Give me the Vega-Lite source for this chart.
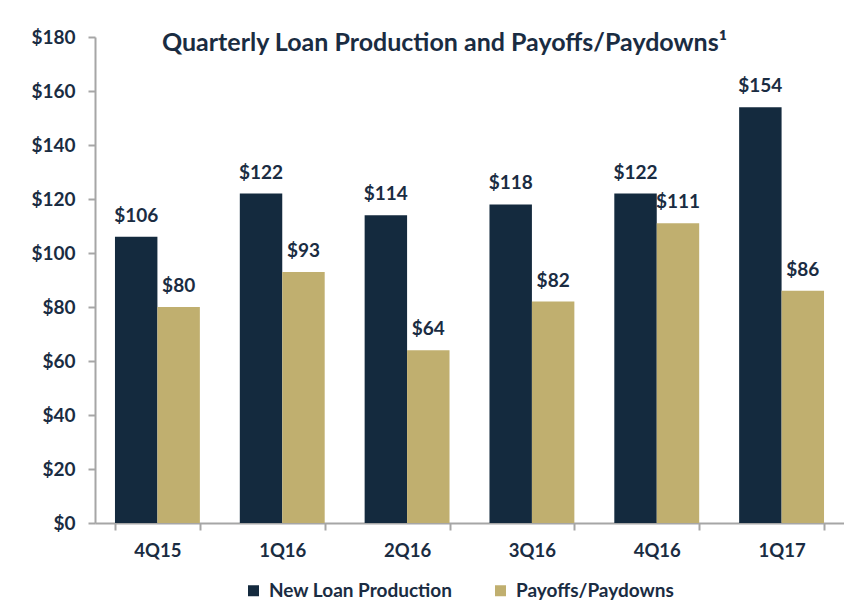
{
  "$schema": "https://vega.github.io/schema/vega-lite/v6.json",
  "width": 749,
  "height": 486,
  "autosize": {"type": "none"},
  "padding": {"left": 95, "top": 37, "right": 0, "bottom": 90},
  "background": "white",
  "title": {
    "text": "Quarterly Loan Production and Payoffs/Paydowns¹",
    "font": "Lato",
    "fontSize": 25,
    "fontWeight": "bold",
    "color": "#1a2c42",
    "anchor": "middle",
    "dx": -25,
    "offset": -28
  },
  "data": {
    "values": [
      {"quarter": "4Q15", "series": "New Loan Production", "value": 106},
      {"quarter": "4Q15", "series": "Payoffs/Paydowns", "value": 80},
      {"quarter": "1Q16", "series": "New Loan Production", "value": 122},
      {"quarter": "1Q16", "series": "Payoffs/Paydowns", "value": 93},
      {"quarter": "2Q16", "series": "New Loan Production", "value": 114},
      {"quarter": "2Q16", "series": "Payoffs/Paydowns", "value": 64},
      {"quarter": "3Q16", "series": "New Loan Production", "value": 118},
      {"quarter": "3Q16", "series": "Payoffs/Paydowns", "value": 82},
      {"quarter": "4Q16", "series": "New Loan Production", "value": 122},
      {"quarter": "4Q16", "series": "Payoffs/Paydowns", "value": 111},
      {"quarter": "1Q17", "series": "New Loan Production", "value": 154},
      {"quarter": "1Q17", "series": "Payoffs/Paydowns", "value": 86}
    ]
  },
  "encoding": {
    "x": {
      "field": "quarter",
      "type": "nominal",
      "sort": ["4Q15", "1Q16", "2Q16", "3Q16", "4Q16", "1Q17"],
      "scale": {"paddingInner": 0.32, "paddingOuter": 0.16},
      "axis": {
        "title": null,
        "labelAngle": 0,
        "labelFont": "Lato",
        "labelFontSize": 18.5,
        "labelFontWeight": "bold",
        "labelColor": "#1a2c42",
        "labelPadding": 11,
        "domainColor": "#a6a6a6",
        "domainWidth": 2,
        "tickColor": "#a6a6a6",
        "tickWidth": 2,
        "tickSize": 7,
        "tickBand": "extent"
      }
    },
    "xOffset": {
      "field": "series",
      "type": "nominal",
      "sort": ["New Loan Production", "Payoffs/Paydowns"]
    },
    "y": {
      "field": "value",
      "type": "quantitative",
      "scale": {"domain": [0, 180]},
      "axis": {
        "title": null,
        "values": [0, 20, 40, 60, 80, 100, 120, 140, 160, 180],
        "format": "$.0f",
        "grid": false,
        "labelFont": "Lato",
        "labelFontSize": 19,
        "labelFontWeight": "bold",
        "labelColor": "#1a2c42",
        "labelPadding": 13,
        "domainColor": "#a6a6a6",
        "domainWidth": 2,
        "tickColor": "#a6a6a6",
        "tickWidth": 2,
        "tickSize": 7
      }
    }
  },
  "layer": [
    {
      "mark": {"type": "bar"},
      "encoding": {
        "color": {
          "field": "series",
          "type": "nominal",
          "scale": {
            "domain": ["New Loan Production", "Payoffs/Paydowns"],
            "range": ["#142a3e", "#c0af6f"]
          },
          "legend": {
            "title": null,
            "orient": "none",
            "legendX": 149,
            "legendY": 544,
            "direction": "horizontal",
            "symbolType": "square",
            "symbolSize": 121,
            "symbolStrokeWidth": 0,
            "labelFont": "Lato",
            "labelFontSize": 19,
            "labelFontWeight": "bold",
            "labelColor": "#1a2c42",
            "labelOffset": 6,
            "columnPadding": 38,
            "labelLimit": 300
          }
        }
      }
    },
    {
      "mark": {
        "type": "text",
        "baseline": "alphabetic",
        "dy": -15,
        "font": "Lato",
        "fontSize": 19,
        "fontWeight": "bold",
        "color": "#1a2c42"
      },
      "encoding": {
        "text": {"field": "value", "type": "quantitative", "format": "$.0f"}
      }
    }
  ],
  "config": {
    "view": {"stroke": null}
  }
}
